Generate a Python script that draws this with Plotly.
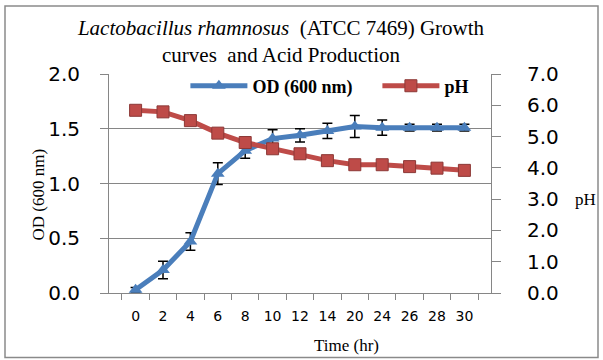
import plotly.graph_objects as go

time_labels = ["0", "2", "4", "6", "8", "10", "12", "14", "20", "24", "26", "28", "30"]
od_values = [0.03, 0.21, 0.47, 1.09, 1.30, 1.41, 1.44, 1.48, 1.52, 1.51, 1.51, 1.51, 1.51]
od_errors = [0.02, 0.08, 0.08, 0.10, 0.07, 0.08, 0.06, 0.07, 0.10, 0.07, 0.03, 0.03, 0.03]
ph_values = [5.84, 5.79, 5.51, 5.11, 4.81, 4.61, 4.45, 4.23, 4.10, 4.10, 4.04, 3.99, 3.92]
ph_errors = [0.05] * 13

BLUE = "#4A7EBB"
RED = "#BE4B48"
GRAY = "#868686"
SERIF = "Liberation Serif"
SANS = "DejaVu Sans"

fig = go.Figure()
fig.add_trace(go.Scatter(
    x=time_labels, y=ph_values, name="pH", yaxis="y2",
    mode="lines+markers",
    line=dict(color=RED, width=5),
    marker=dict(symbol="square", size=12, color=RED, line=dict(color="#8C3836", width=1)),
    error_y=dict(type="data", array=ph_errors, color="black", thickness=1.5, width=5),
))
fig.add_trace(go.Scatter(
    x=time_labels, y=od_values, name="OD (600 nm)",
    mode="lines+markers",
    line=dict(color=BLUE, width=5),
    marker=dict(symbol="triangle-up", size=12, color=BLUE),
    error_y=dict(type="data", array=od_errors, color="black", thickness=1.5, width=5),
))

fig.update_layout(
    width=603, height=360,
    margin=dict(l=109, r=112, t=74, b=67),
    paper_bgcolor="white", plot_bgcolor="white",
    showlegend=True,
    legend=dict(
        orientation="h", x=0.2, y=0.945, xanchor="left", yanchor="middle",
        font=dict(family=SERIF, size=18, color="black", weight="bold"),
        itemwidth=57, traceorder="reversed", bgcolor="rgba(0,0,0,0)",
        entrywidth=120, entrywidthmode="pixels",
    ),
    title=dict(
        text="<i>Lactobacillus rhamnosus</i>  (ATCC 7469) Growth<br>curves  and Acid Production",
        x=281 / 603, xanchor="center", y=1 - 35 / 360, yanchor="top",
        font=dict(family=SERIF, size=21, color="black"),
    ),
    xaxis=dict(
        type="category", tickson="boundaries", ticks="outside", ticklen=6,
        tickcolor=GRAY, showline=True, linecolor=GRAY, linewidth=1,
        showgrid=False, tickfont=dict(family=SANS, size=14, color="black"),
        ticklabelstandoff=10,
    ),
    yaxis=dict(
        range=[0, 2], dtick=0.5, tickformat=".1f", ticks="outside", ticklen=8,
        tickcolor=GRAY, showline=True, linecolor=GRAY, linewidth=1,
        showgrid=True, gridcolor=GRAY, gridwidth=1, zeroline=False,
        tickfont=dict(family=SANS, size=20, color="black"),
        ticklabelstandoff=16,
    ),
    yaxis2=dict(
        range=[0, 7], dtick=1, tickformat=".1f", overlaying="y", side="right",
        ticks="outside", ticklen=9, tickcolor=GRAY, showline=True, linecolor=GRAY,
        linewidth=1, showgrid=False, zeroline=False,
        tickfont=dict(family=SANS, size=20, color="black"),
        ticklabelstandoff=22,
    ),
    annotations=[
        dict(text="OD (600 nm)", xref="paper", yref="paper",
             x=(37.5 - 109) / 382, y=(293 - 195) / 219, textangle=-90,
             showarrow=False, xanchor="center", yanchor="middle",
             font=dict(family=SERIF, size=17, color="black")),
        dict(text="pH", xref="paper", yref="paper",
             x=(585 - 109) / 382, y=(293 - 199) / 219,
             showarrow=False, xanchor="center", yanchor="middle",
             font=dict(family=SERIF, size=17, color="black")),
        dict(text="Time (hr)", xref="paper", yref="paper",
             x=(346 - 109) / 382, y=(293 - 345) / 219,
             showarrow=False, xanchor="center", yanchor="middle",
             font=dict(family=SERIF, size=17, color="black")),
    ],
    shapes=[
        dict(type="rect", xref="paper", yref="paper",
             x0=(5 - 109) / 382, x1=(598 - 109) / 382,
             y0=(293 - 357.5) / 219, y1=(293 - 6) / 219,
             line=dict(color="#8A8A8A", width=1.5), fillcolor="rgba(0,0,0,0)", layer="below"),
    ],
)

fig.write_html(
    "out.html",
    config={"displayModeBar": False},
    post_script="document.body.style.margin='0';document.body.style.overflow='hidden';",
)
